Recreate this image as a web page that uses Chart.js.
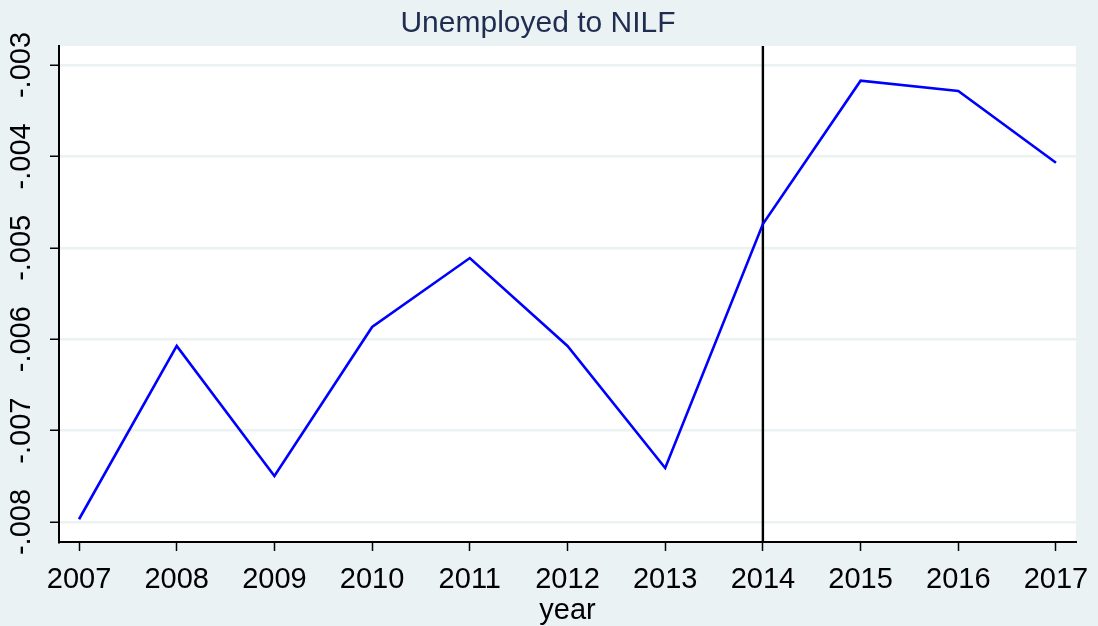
<!DOCTYPE html>
<html>
<head>
<meta charset="utf-8">
<script src="https://cdn.jsdelivr.net/npm/chart.js@4"></script>
<style>
  html, body { margin: 0; padding: 0; background: #eaf2f3; }
  canvas { display: block; }
</style>
</head>
<body>
<canvas id="chart" width="1098" height="626"></canvas>
<script>
// values
const years = [2007, 2008, 2009, 2010, 2011, 2012, 2013, 2014, 2015, 2016, 2017];
const values = [-0.00797, -0.006074, -0.007497, -0.005866, -0.005112, -0.006074,
                -0.007409, -0.00474, -0.003172, -0.003284, -0.004069];
const yTicks = [-0.008, -0.007, -0.006, -0.005, -0.004, -0.003];
const markerYear = 2014;

const bg = '#eaf2f3';
const font = 'Arial, "Liberation Sans", sans-serif';

// Stata-ish label: -.003
function fmt(v) {
  return v.toFixed(3).replace('0.', '.');
}

const backdrop = {
  id: 'backdrop',
  beforeDraw(chart) {
    const { ctx, chartArea: a } = chart;
    ctx.save();
    ctx.fillStyle = bg;
    ctx.fillRect(0, 0, chart.width, chart.height);
    ctx.fillStyle = '#ffffff';
    ctx.fillRect(a.left, a.top, a.right - a.left, a.bottom - a.top);
    ctx.restore();
  }
};

const yMin = -0.008219, yMax = -0.002792;

new Chart(document.getElementById('chart').getContext('2d'), {
  type: 'line',
  data: {
    datasets: [
      {
        data: years.map((y, i) => ({ x: y, y: values[i] })),
        borderColor: '#0000ff',
        borderWidth: 2.6,
        pointRadius: 0,
        tension: 0
      },
      {
        data: [{ x: markerYear, y: yMin }, { x: markerYear, y: yMax }],
        borderColor: '#000000',
        borderWidth: 2.4,
        pointRadius: 0
      }
    ]
  },
  options: {
    responsive: false,
    animation: false,
    layout: { padding: { left: 0, right: 22, top: 0, bottom: 0 } },
    plugins: {
      legend: { display: false },
      tooltip: { enabled: false },
      title: {
        display: true,
        text: 'Unemployed to NILF',
        color: '#1e2d50',
        font: { family: font, size: 30, weight: 'normal', lineHeight: 1.2 },
        padding: { top: 6, bottom: 4 }
      }
    },
    scales: {
      x: {
        type: 'linear',
        min: 2006.795,
        max: 2017.205,
        afterBuildTicks: s => { s.ticks = years.map(v => ({ value: v })); },
        afterFit: s => { s.height = 84; s.paddingLeft = 0; s.paddingRight = 0; },
        ticks: {
          color: '#000',
          font: { family: font, size: 29 },
          maxRotation: 0,
          autoSkip: false,
          padding: 12,
          callback: v => String(v)
        },
        grid: {
          drawOnChartArea: false,
          tickColor: '#000',
          tickLength: 9,
          tickWidth: 1.5
        },
        border: { color: '#000', width: 2 },
        title: {
          display: true,
          text: 'year',
          color: '#000',
          font: { family: font, size: 29 },
          padding: { top: 0, bottom: -2 }
        }
      },
      y: {
        min: yMin,
        max: yMax,
        afterBuildTicks: s => { s.ticks = yTicks.map(v => ({ value: v })); },
        afterFit: s => { s.width = 59; s.paddingTop = 0; s.paddingBottom = 0; },
        ticks: {
          color: '#000',
          font: { family: font, size: 29 },
          minRotation: 90,
          maxRotation: 90,
          crossAlign: 'center',
          padding: -5,
          callback: v => fmt(v)
        },
        grid: {
          color: bg,
          lineWidth: 2.5,
          tickColor: '#000',
          tickLength: 9,
          tickWidth: 1.5
        },
        border: { color: '#000', width: 2 }
      }
    }
  },
  plugins: [backdrop]
});
</script>
</body>
</html>
